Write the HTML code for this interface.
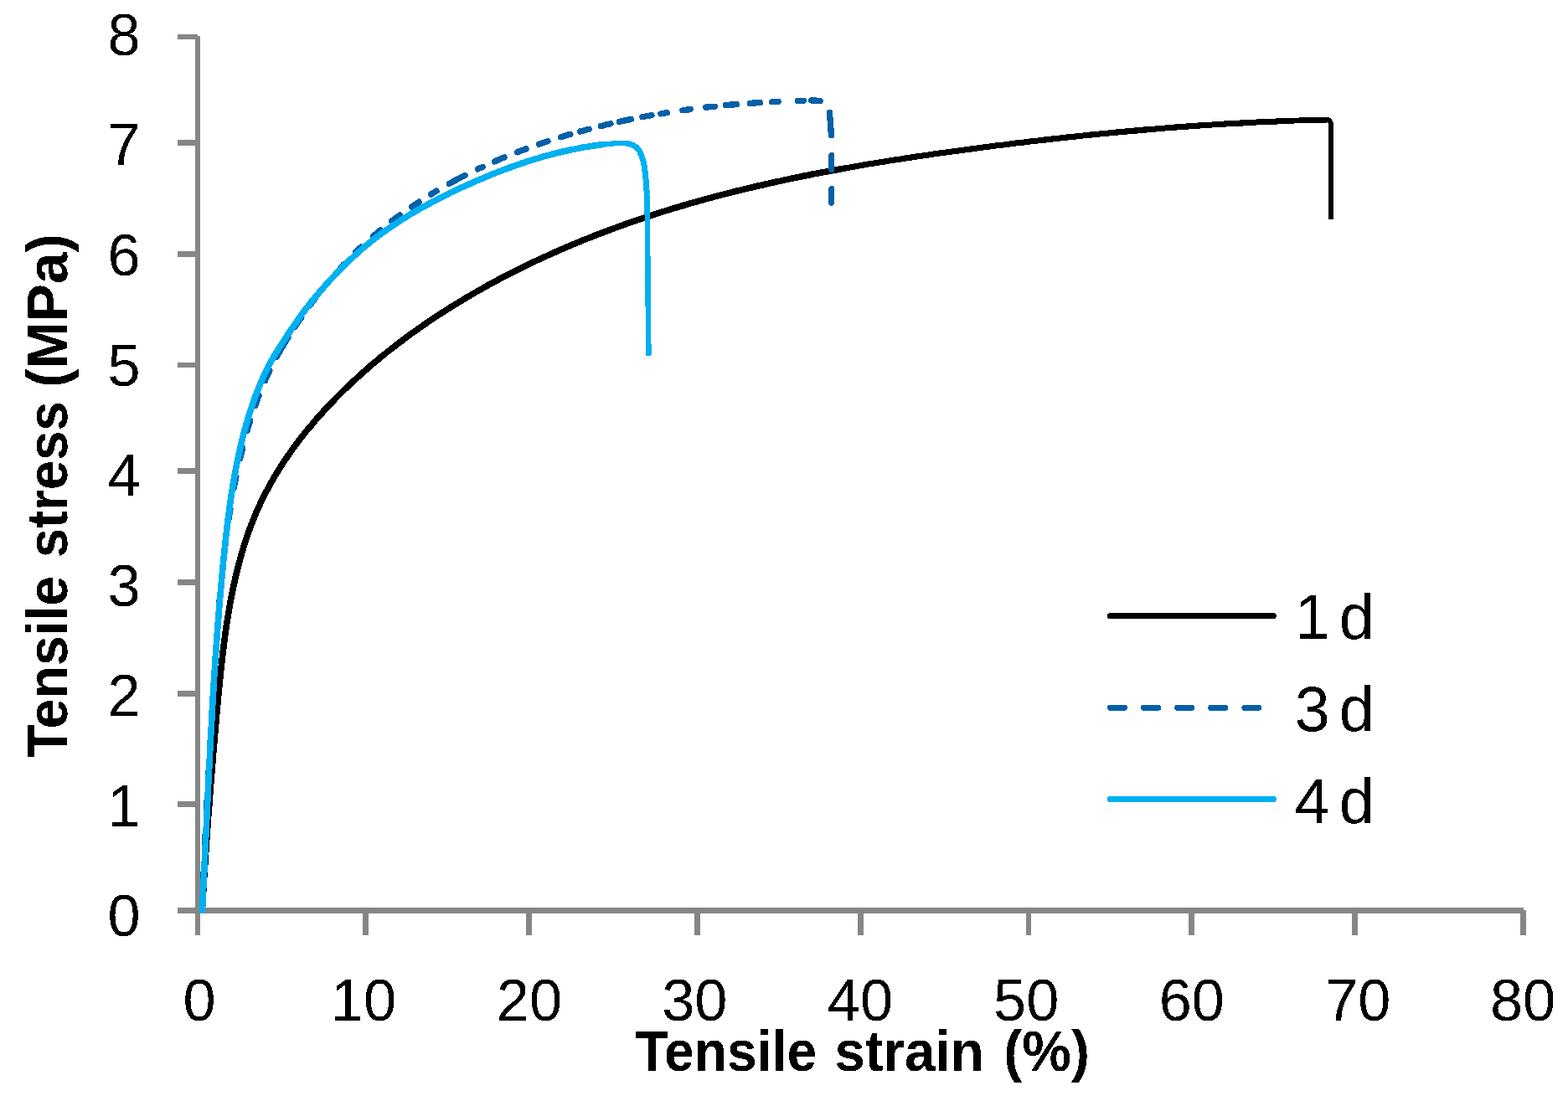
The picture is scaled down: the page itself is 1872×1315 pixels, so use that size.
<!DOCTYPE html>
<html lang="en">
<head>
<meta charset="utf-8">
<title>Tensile stress vs tensile strain</title>
<style>
html,body{margin:0;padding:0;background:#fff;}
body{width:1872px;height:1315px;overflow:hidden;}
svg{display:block;}
</style>
</head>
<body>
<svg width="1872" height="1315" viewBox="0 0 1872 1315">
<rect width="1872" height="1315" fill="#ffffff"/>
<defs><filter id="crisp" filterUnits="userSpaceOnUse" x="0" y="0" width="1872" height="1315" color-interpolation-filters="sRGB"><feComponentTransfer><feFuncA type="discrete" tableValues="0 1"/></feComponentTransfer></filter></defs>
<g shape-rendering="crispEdges"><rect x="233" y="43" width="6" height="1074" fill="#868686"/><rect x="212" y="1084" width="1607" height="7" fill="#868686"/><rect x="212" y="41" width="24" height="6" fill="#868686"/><rect x="212" y="167" width="24" height="7" fill="#868686"/><rect x="212" y="300" width="24" height="7" fill="#868686"/><rect x="212" y="433" width="24" height="6" fill="#868686"/><rect x="212" y="559" width="24" height="7" fill="#868686"/><rect x="212" y="692" width="24" height="7" fill="#868686"/><rect x="212" y="825" width="24" height="7" fill="#868686"/><rect x="212" y="957" width="24" height="7" fill="#868686"/><rect x="433" y="1087" width="7" height="30" fill="#868686"/><rect x="628" y="1087" width="7" height="30" fill="#868686"/><rect x="829" y="1087" width="7" height="30" fill="#868686"/><rect x="1024" y="1087" width="7" height="30" fill="#868686"/><rect x="1225" y="1087" width="6" height="30" fill="#868686"/><rect x="1419" y="1087" width="7" height="30" fill="#868686"/><rect x="1614" y="1087" width="7" height="30" fill="#868686"/><rect x="1815" y="1087" width="7" height="30" fill="#868686"/></g>
<g fill="none" stroke-linejoin="round"><path filter="url(#crisp)" d="M241.4,1087.5 L241.7,1081.9 L242.1,1076.3 L242.4,1070.6 L242.7,1065.0 L243.1,1059.4 L243.4,1053.7 L243.7,1048.1 L244.1,1042.5 L244.5,1036.9 L244.8,1031.3 L245.2,1025.7 L245.6,1020.1 L245.9,1014.5 L246.3,1008.9 L246.7,1003.3 L247.1,997.7 L247.5,992.1 L247.9,986.5 L248.3,980.9 L248.7,975.3 L249.1,969.7 L249.6,964.1 L250.0,958.5 L250.4,952.9 L250.8,947.3 L251.3,941.8 L251.7,936.2 L252.2,930.6 L252.6,925.0 L253.1,919.4 L253.5,913.8 L254.0,908.2 L254.4,902.6 L254.9,897.0 L255.4,891.5 L255.9,885.9 L256.3,880.3 L256.8,874.7 L257.3,869.1 L257.8,863.5 L258.3,857.9 L258.8,852.2 L259.3,846.6 L259.8,841.0 L260.3,835.4 L260.8,829.8 L261.4,824.2 L261.9,818.6 L262.5,812.9 L263.0,807.3 L263.6,801.7 L264.2,796.1 L264.8,790.5 L265.5,784.8 L266.1,779.2 L266.8,773.6 L267.5,768.0 L268.3,762.4 L269.0,756.8 L269.8,751.2 L270.6,745.6 L271.5,740.0 L272.4,734.5 L273.3,728.9 L274.3,723.3 L275.3,717.7 L276.4,712.2 L277.5,706.7 L278.6,701.1 L279.8,695.6 L281.0,690.1 L282.3,684.6 L283.7,679.2 L285.1,673.7 L286.5,668.3 L288.0,662.9 L289.6,657.5 L291.2,652.1 L292.9,646.8 L294.7,641.5 L296.5,636.2 L298.4,630.9 L300.4,625.7 L302.4,620.5 L304.5,615.4 L306.7,610.3 L309.0,605.2 L311.4,600.1 L313.8,595.1 L316.3,590.2 L318.9,585.2 L321.5,580.3 L324.2,575.5 L327.0,570.6 L329.8,565.8 L332.8,561.1 L335.7,556.4 L338.8,551.7 L341.9,547.0 L345.1,542.4 L348.3,537.9 L351.6,533.3 L354.9,528.8 L358.3,524.4 L361.8,519.9 L365.3,515.5 L368.8,511.2 L372.5,506.9 L376.1,502.6 L379.8,498.3 L383.6,494.1 L387.4,489.9 L391.2,485.8 L395.1,481.7 L399.0,477.6 L402.9,473.6 L406.9,469.6 L411.0,465.6 L415.0,461.7 L419.1,457.8 L423.3,454.0 L427.4,450.2 L431.6,446.4 L435.9,442.6 L440.1,438.9 L444.4,435.2 L448.7,431.6 L453.0,428.0 L457.4,424.4 L461.8,420.9 L466.2,417.4 L470.6,413.9 L475.1,410.5 L479.6,407.1 L484.1,403.7 L488.6,400.4 L493.2,397.0 L497.8,393.8 L502.4,390.5 L507.0,387.3 L511.7,384.2 L516.3,381.0 L521.0,377.9 L525.7,374.8 L530.5,371.8 L535.2,368.7 L540.0,365.8 L544.8,362.8 L549.6,359.9 L554.4,357.0 L559.2,354.1 L564.1,351.3 L568.9,348.5 L573.8,345.7 L578.7,342.9 L583.6,340.2 L588.5,337.5 L593.5,334.9 L598.4,332.2 L603.4,329.6 L608.4,327.0 L613.4,324.5 L618.4,322.0 L623.4,319.5 L628.5,317.0 L633.5,314.6 L638.6,312.1 L643.7,309.8 L648.8,307.4 L653.9,305.1 L659.0,302.8 L664.1,300.5 L669.3,298.2 L674.4,296.0 L679.6,293.8 L684.8,291.6 L690.0,289.5 L695.2,287.3 L700.4,285.2 L705.6,283.2 L710.8,281.1 L716.1,279.1 L721.3,277.1 L726.6,275.1 L731.8,273.2 L737.1,271.2 L742.4,269.3 L747.7,267.4 L753.0,265.6 L758.3,263.7 L763.6,261.9 L769.0,260.1 L774.3,258.4 L779.6,256.6 L785.0,254.9 L790.3,253.2 L795.7,251.5 L801.1,249.9 L806.5,248.2 L811.9,246.6 L817.2,245.0 L822.6,243.4 L828.1,241.9 L833.5,240.4 L838.9,238.8 L844.3,237.4 L849.7,235.9 L855.2,234.4 L860.6,233.0 L866.0,231.6 L871.5,230.2 L876.9,228.8 L882.4,227.5 L887.8,226.1 L893.3,224.8 L898.8,223.5 L904.2,222.2 L909.7,221.0 L915.2,219.7 L920.7,218.5 L926.2,217.3 L931.7,216.1 L937.2,214.9 L942.7,213.7 L948.2,212.6 L953.7,211.5 L959.2,210.3 L964.7,209.2 L970.2,208.1 L975.7,207.1 L981.2,206.0 L986.8,205.0 L992.3,203.9 L997.8,202.9 L1003.4,201.9 L1008.9,200.9" stroke="#000000" stroke-width="7.6" stroke-linecap="round" />
<path filter="url(#crisp)" d="M1003.4,201.9 L1008.9,200.9 L1014.4,199.9 L1020.0,198.9 L1025.5,198.0 L1031.1,197.0 L1036.6,196.1 L1042.1,195.2 L1047.7,194.3 L1053.3,193.4 L1058.8,192.5 L1064.4,191.6 L1069.9,190.7 L1075.5,189.9 L1081.0,189.0 L1086.6,188.2 L1092.2,187.3 L1097.7,186.5 L1103.3,185.7 L1108.9,184.9 L1114.4,184.1 L1120.0,183.3 L1125.6,182.5 L1131.2,181.7 L1136.7,181.0 L1142.3,180.2 L1147.9,179.4 L1153.5,178.7 L1159.0,177.9 L1164.6,177.2 L1170.2,176.5 L1175.8,175.7 L1181.3,175.0 L1186.9,174.3 L1192.5,173.6 L1198.1,172.9 L1203.7,172.2 L1209.2,171.5 L1214.8,170.8 L1220.4,170.2 L1226.0,169.5 L1231.6,168.8 L1237.1,168.2 L1242.7,167.5 L1248.3,166.9 L1253.9,166.2 L1259.5,165.6 L1265.1,165.0 L1270.7,164.4 L1276.2,163.8 L1281.8,163.2 L1287.4,162.6 L1293.0,162.0 L1298.6,161.4 L1304.2,160.9 L1309.8,160.3 L1315.4,159.7 L1321.0,159.2 L1326.5,158.7 L1332.1,158.1 L1337.7,157.6 L1343.3,157.1 L1348.9,156.6 L1354.5,156.1 L1360.1,155.6 L1365.7,155.1 L1371.3,154.6 L1376.9,154.2 L1382.5,153.7 L1388.1,153.2 L1393.7,152.8 L1399.3,152.4 L1404.9,151.9 L1410.5,151.5 L1416.1,151.1 L1421.7,150.7 L1427.3,150.3 L1432.9,149.9 L1438.6,149.6 L1444.2,149.2 L1449.8,148.8 L1455.4,148.5 L1461.0,148.1 L1466.6,147.8 L1472.2,147.5 L1477.8,147.2 L1483.4,146.9 L1489.1,146.6 L1494.7,146.3 L1500.3,146.0 L1505.9,145.7 L1511.5,145.5 L1517.1,145.2 L1522.8,145.0 L1528.4,144.8 L1534.0,144.6 L1539.6,144.3" stroke="#000000" stroke-width="7.1" stroke-linecap="round" />
<path filter="url(#crisp)" d="M1539.6,144.3 L1545.2,144.1 L1550.9,143.9 L1556.5,143.8 L1562.1,143.6 L1567.7,143.4 L1573.4,143.3 L1579.0,143.1 L1584.6,143.0" stroke="#000000" stroke-width="6.8" stroke-linecap="round" />
<path filter="url(#crisp)" d="M1584.6,143.5 L1585.3,143.5 L1585.9,143.6 L1586.5,143.8 L1587.0,144.1 L1587.4,144.5 L1587.8,145.0 L1588.1,145.5 L1588.4,146.1 L1588.6,146.6 L1588.8,147.2 L1588.8,147.8 L1588.9,148.4 L1588.9,149.0 L1588.9,149.6 L1588.9,150.3 L1588.9,150.9 L1588.9,151.5 L1588.9,152.1 L1588.9,152.7 L1588.9,153.3 L1588.9,153.9 L1589.0,154.5 L1589.0,155.1 L1589.0,155.7 L1589.0,156.3 L1589.0,156.9 L1589.0,157.5 L1589.0,158.1 L1589.0,158.7 L1589.0,159.3 L1589.0,159.9 L1589.0,160.5 L1589.0,161.1 L1589.0,161.7 L1589.0,162.3 L1589.0,163.0 L1589.0,163.6 L1589.0,164.2 L1589.0,164.8 L1589.0,165.4 L1589.0,166.0 L1589.0,166.6 L1589.1,167.2 L1589.1,167.8 L1589.1,168.4 L1589.1,169.0 L1589.1,169.6 L1589.1,170.2 L1589.1,170.8 L1589.1,171.4 L1589.1,172.0 L1589.1,172.6 L1589.1,173.2 L1589.1,173.8 L1589.1,174.4 L1589.1,175.0 L1589.1,175.6 L1589.1,176.2 L1589.1,176.9 L1589.1,177.5 L1589.1,178.1 L1589.1,178.7 L1589.1,179.3 L1589.1,179.9 L1589.1,180.5 L1589.1,181.1 L1589.1,181.7 L1589.1,182.3 L1589.1,182.9 L1589.1,183.5 L1589.1,184.1 L1589.1,184.7 L1589.1,185.3 L1589.1,185.9 L1589.1,186.5 L1589.2,187.1 L1589.2,187.7 L1589.2,188.3 L1589.2,188.9 L1589.2,189.5 L1589.2,190.1 L1589.2,190.8 L1589.2,191.4 L1589.2,192.0 L1589.2,192.6 L1589.2,193.2 L1589.2,193.8 L1589.2,194.4 L1589.2,195.0 L1589.2,195.6 L1589.2,196.2 L1589.2,196.8 L1589.2,197.4 L1589.2,198.0 L1589.2,198.6 L1589.2,199.2 L1589.2,199.8 L1589.2,200.4 L1589.2,201.0 L1589.2,201.6 L1589.2,202.2 L1589.2,202.9 L1589.2,203.5 L1589.2,204.1 L1589.2,204.7 L1589.2,205.3 L1589.2,205.9 L1589.2,206.5 L1589.2,207.1 L1589.2,207.7 L1589.2,208.3 L1589.2,208.9 L1589.2,209.5 L1589.2,210.1 L1589.2,210.7 L1589.2,211.3 L1589.2,211.9 L1589.2,212.5 L1589.2,213.1 L1589.2,213.7 L1589.2,214.3 L1589.2,215.0 L1589.2,215.6 L1589.2,216.2 L1589.2,216.8 L1589.2,217.4 L1589.2,218.0 L1589.2,218.6 L1589.2,219.2 L1589.2,219.8 L1589.2,220.4 L1589.2,221.0 L1589.2,221.6 L1589.2,222.2 L1589.2,222.8 L1589.2,223.4 L1589.2,224.0 L1589.2,224.6 L1589.2,225.2 L1589.2,225.9 L1589.2,226.5 L1589.2,227.1 L1589.2,227.7 L1589.2,228.3 L1589.2,228.9 L1589.2,229.5 L1589.2,230.1 L1589.2,230.7 L1589.2,231.3 L1589.2,231.9 L1589.2,232.5 L1589.2,233.1 L1589.2,233.7 L1589.2,234.3 L1589.1,234.9 L1589.1,235.5 L1589.1,236.1 L1589.1,236.8 L1589.1,237.4 L1589.1,238.0 L1589.1,238.6 L1589.1,239.2 L1589.1,239.8 L1589.1,240.4 L1589.1,241.0 L1589.1,241.6 L1589.1,242.2 L1589.1,242.8 L1589.1,243.4 L1589.1,244.0 L1589.1,244.6 L1589.1,245.2 L1589.1,245.8 L1589.1,246.4 L1589.1,247.1 L1589.1,247.7 L1589.1,248.3 L1589.1,248.9 L1589.1,249.5 L1589.1,250.1 L1589.1,250.7 L1589.1,251.3 L1589.1,251.9 L1589.1,252.5 L1589.1,253.1 L1589.1,253.7 L1589.1,254.3 L1589.0,254.9 L1589.0,255.5 L1589.0,256.1 L1589.0,256.7 L1589.0,257.4 L1589.0,258.0 L1589.0,258.6 L1589.0,259.2 L1589.0,259.8 L1589.0,260.4 L1589.0,261.0 L1589.0,261.6" stroke="#000000" stroke-width="6.2" stroke-linecap="butt"/>
<path filter="url(#crisp)" d="M241.4,1087.5 L241.5,1082.8 L241.7,1078.0 L241.9,1073.3 L242.0,1068.5 L242.2,1063.7 L242.4,1059.0 L242.6,1054.2 L242.8,1049.5 L243.0,1044.7 L243.2,1040.0 L243.4,1035.2 L243.6,1030.5 L243.8,1025.7 L244.0,1021.0 L244.2,1016.2 L244.4,1011.5 L244.6,1006.7 L244.9,1002.0 L245.1,997.2 L245.3,992.5 L245.5,987.7 L245.8,983.0 L246.0,978.3 L246.3,973.5 L246.5,968.8 L246.7,964.0 L247.0,959.3 L247.2,954.5 L247.5,949.8 L247.7,945.1 L248.0,940.3 L248.3,935.6 L248.5,930.8 L248.8,926.1 L249.1,921.3 L249.3,916.6 L249.6,911.9 L249.9,907.1 L250.1,902.4 L250.4,897.6 L250.7,892.9 L251.0,888.1 L251.2,883.4 L251.5,878.7 L251.8,873.9 L252.1,869.2 L252.4,864.4 L252.6,859.7 L252.9,855.0 L253.2,850.2 L253.5,845.5 L253.8,840.7 L254.1,836.0 L254.4,831.2 L254.7,826.5 L255.0,821.7 L255.2,817.0 L255.5,812.3 L255.8,807.5 L256.1,802.8 L256.4,798.0 L256.7,793.3 L257.0,788.5 L257.3,783.8 L257.6,779.0 L257.9,774.3 L258.2,769.5 L258.6,764.8 L258.9,760.0 L259.2,755.3 L259.6,750.5 L259.9,745.8 L260.3,741.1 L260.6,736.3 L261.0,731.6 L261.4,726.8 L261.7,722.1 L262.1,717.4 L262.5,712.6 L262.9,707.9 L263.4,703.1 L263.8,698.4 L264.3,693.7 L264.7,688.9 L265.2,684.2 L265.7,679.5 L266.2,674.8 L266.7,670.0 L267.2,665.3 L267.8,660.6 L268.3,655.9 L268.9,651.2 L269.5,646.4 L270.1,641.7 L270.7,637.0 L271.4,632.3 L272.0,627.6 L272.7,622.9 L273.4,618.2 L274.1,613.5 L274.8,608.8 L275.6,604.1 L276.4,599.4 L277.2,594.7 L278.0,590.1 L278.9,585.4 L279.7,580.7 L280.6,576.0 L281.5,571.4 L282.5,566.7 L283.4,562.0 L284.4,557.4 L285.5,552.7 L286.5,548.1 L287.6,543.4 L288.7,538.8 L289.8,534.2 L291.0,529.6 L292.2,525.0 L293.5,520.4 L294.7,515.8 L296.0,511.3 L297.4,506.7 L298.8,502.2 L300.2,497.7 L301.7,493.2 L303.2,488.7 L304.8,484.2 L306.4,479.7 L308.0,475.3 L309.7,470.9 L311.4,466.5 L313.2,462.1 L315.1,457.8 L317.0,453.4 L318.9,449.1 L320.9,444.8 L322.9,440.6 L325.0,436.3 L327.2,432.1 L329.4,427.9 L331.6,423.8 L334.0,419.6 L336.3,415.5 L338.7,411.5 L341.2,407.4 L343.7,403.4 L346.3,399.3 L348.9,395.3 L351.5,391.4 L354.1,387.4 L356.8,383.5 L359.5,379.5 L362.2,375.6 L364.9,371.7 L367.7,367.8 L370.5,364.0 L373.4,360.1 L376.2,356.3 L379.1,352.5 L382.1,348.8 L385.1,345.0 L388.1,341.3 L391.1,337.6 L394.2,333.9 L397.3,330.3 L400.4,326.7 L403.6,323.2 L406.8,319.6 L410.0,316.1 L413.3,312.7 L416.6,309.3 L420.0,305.9 L423.3,302.5 L426.7,299.2 L430.2,296.0 L433.6,292.7 L437.1,289.5 L440.7,286.4 L444.2,283.3 L447.8,280.2 L451.4,277.1 L455.1,274.1 L458.7,271.1 L462.4,268.2 L466.2,265.3 L469.9,262.4 L473.7,259.6 L477.5,256.8 L481.3,254.0 L485.2,251.3 L489.1,248.6 L493.0,245.9 L496.9,243.3 L500.9,240.7 L504.9,238.1 L508.9,235.6 L512.9,233.1 L516.9,230.6 L521.0,228.2 L525.1,225.8 L529.2,223.4 L533.3,221.1 L537.5,218.8 L541.6,216.5 L545.8,214.3 L550.0,212.1 L554.3,209.9 L558.5,207.8 L562.8,205.7 L567.0,203.6 L571.3,201.5 L575.6,199.5 L580.0,197.5 L584.3,195.6 L588.7,193.7 L593.0,191.8 L597.4,189.9 L601.8,188.0 L606.2,186.2 L610.7,184.5 L615.1,182.7 L619.5,181.0 L624.0,179.3 L628.5,177.6 L633.0,176.0 L637.4,174.4 L642.0,172.8 L646.5,171.2 L651.0,169.7 L655.5,168.2 L660.1,166.7 L664.6,165.3 L669.2,163.9 L673.7,162.5 L678.3,161.1 L682.9,159.8 L687.5,158.4 L692.0,157.2 L696.6,155.9 L701.2,154.7 L705.8,153.4 L710.4,152.3 L715.0,151.1 L719.7,150.0 L724.3,148.8 L728.9,147.8 L733.5,146.7 L738.2,145.6 L742.8,144.6 L747.4,143.6 L752.1,142.7 L756.7,141.7 L761.4,140.8 L766.0,139.9 L770.7,139.0 L775.4,138.2 L780.0,137.3 L784.7,136.5 L789.4,135.7 L794.0,135.0 L798.7,134.2 L803.4,133.5 L808.1,132.8 L812.8,132.1 L817.5,131.4 L822.2,130.8 L826.9,130.2 L831.6,129.6 L836.3,129.0 L841.0,128.4 L845.7,127.9 L850.4,127.4 L855.1,126.9 L859.9,126.4 L864.6,125.9 L869.3,125.5 L874.0,125.0 L878.8,124.6 L883.5,124.2 L888.2,123.8 L893.0,123.5 L897.7,123.1 L902.5,122.8 L907.2,122.5 L912.0,122.2 L916.7,122.0 L921.5,121.7 L926.2,121.5 L931.0,121.2 L935.7,121.0 L940.5,120.8 L945.3,120.7 L950.0,120.5 L954.8,120.4 L959.6,120.2 L964.3,120.1 L969.1,120.0 L973.9,119.9 L974.5,120.4 L975.2,120.3 L975.9,120.3 L976.5,120.4 L977.2,120.4 L977.9,120.5 L978.5,120.6 L979.2,120.7 L979.8,120.8 L980.5,121.0 L981.1,121.2 L981.8,121.4 L982.4,121.6 L983.0,121.9 L983.6,122.2 L984.2,122.5 L984.8,122.8 L985.4,123.2 L986.0,123.6 L986.5,124.0 L986.9,124.4 L987.4,124.9 L987.8,125.5 L988.2,126.0 L988.5,126.6 L988.8,127.2 L989.1,127.8 L989.3,128.5 L989.5,129.1 L989.7,129.7 L989.9,130.4 L990.0,131.0 L990.1,131.7 L990.2,132.4 L990.3,133.0 L990.3,133.7 L990.4,134.4 L990.4,135.1 L990.5,135.7 L990.5,136.4 L990.6,137.1 L990.6,137.7 L990.7,138.4 L990.8,139.1 L990.8,139.7 L990.9,140.4 L990.9,141.1 L991.0,141.7 L991.0,142.4 L991.1,143.1 L991.1,143.7 L991.2,144.4 L991.2,145.1 L991.3,145.7 L991.4,146.4 L991.4,147.1 L991.5,147.7 L991.5,148.4 L991.6,149.1 L991.6,149.7 L991.7,150.4 L991.7,151.1 L991.8,151.7 L991.8,152.4 L991.9,153.0 L991.9,153.7 L991.9,154.4 L992.0,155.0 L992.0,155.7 L992.1,156.4 L992.1,157.0 L992.1,157.7 L992.2,158.4 L992.2,159.0 L992.2,159.7 L992.3,160.4 L992.3,161.0 L992.3,161.7 L992.4,162.4 L992.4,163.0 L992.4,163.7 L992.4,164.4 L992.4,165.0 L992.5,165.7 L992.5,166.4 L992.5,167.0 L992.5,167.7 L992.5,168.4 L992.5,169.0 L992.5,169.7 L992.6,170.4 L992.6,171.0 L992.6,171.7 L992.6,172.4 L992.6,173.0 L992.6,173.7 L992.6,174.4 L992.6,175.1 L992.6,175.7 L992.6,176.4 L992.6,177.1 L992.6,177.7 L992.6,178.4 L992.6,179.1 L992.6,179.7 L992.6,180.4 L992.6,181.1 L992.6,181.7 L992.6,182.4 L992.6,183.1 L992.6,183.7 L992.6,184.4 L992.6,185.1 L992.6,185.7 L992.6,186.4 L992.6,187.1 L992.6,187.7 L992.6,188.4 L992.6,189.1 L992.6,189.7 L992.6,190.4 L992.6,191.1 L992.6,191.8 L992.6,192.4 L992.6,193.1 L992.6,193.8 L992.6,194.4 L992.6,195.1 L992.6,195.8 L992.6,196.4 L992.6,197.1 L992.6,197.8 L992.6,198.4 L992.6,199.1 L992.6,199.8 L992.6,200.4 L992.6,201.1 L992.6,201.8 L992.6,202.4 L992.6,203.1 L992.6,203.8 L992.6,204.4 L992.6,205.1 L992.6,205.8 L992.6,206.4 L992.6,207.1 L992.6,207.8 L992.6,208.4 L992.6,209.1 L992.6,209.8 L992.6,210.5 L992.6,211.1 L992.6,211.8 L992.6,212.5 L992.6,213.1 L992.6,213.8 L992.6,214.5 L992.6,215.1 L992.6,215.8 L992.6,216.5 L992.6,217.1 L992.6,217.8 L992.6,218.5 L992.6,219.1 L992.6,219.8 L992.6,220.5 L992.6,221.1 L992.6,221.8 L992.6,222.5 L992.6,223.1 L992.6,223.8 L992.6,224.5 L992.6,225.1 L992.6,225.8 L992.6,226.5 L992.6,227.1 L992.6,227.8 L992.6,228.5 L992.6,229.1 L992.6,229.8 L992.6,230.5 L992.6,231.2 L992.6,231.8 L992.6,232.5 L992.6,233.2 L992.6,233.8 L992.6,234.5 L992.6,235.2 L992.6,235.8 L992.6,236.5 L992.6,237.2 L992.6,237.8 L992.6,238.5 L992.6,239.2 L992.6,239.8 L992.6,240.5 L992.6,241.2 L992.6,241.8 L992.6,242.5" stroke="#0560a8" stroke-width="7.3" stroke-linecap="round" stroke-dasharray="16.7 23.3 16.7 23.3 16.7 23.3 16.7 23.3 16.7 23.3 16.7 23.3 16.7 23.3 16.7 23.3 16.7 23.4 16.8 59.0 7.1 26.0 11.9 26.1 12.9 22.6 13.0 21.0 12.8 18.5 13.3 19.0 13.1 18.0 27.4 15.7 13.2 17.3 11.8 16.4 5.0 24.8 5.6 20.3 9.3 19.2 11.5 16.8 12.4 17.2 10.6 16.8 7.7 17.7 21.2 17.0 6.3 15.7 12.7 16.5 11.4 16.2 11.3 16.0 12.1 11.8 11.3 14.8 11.9 10.6 14.3 13.9 11.2 11.0 7.5 18.8 9.5 18.6 10.8 13.2 12.9 16.0 11.9 14.4 7.4 23.3 6.9 9.2 11.1 19.5 27.4 23.8 16.6 23.4 16.4 1000.0"/>
<path filter="url(#crisp)" d="M241.3,1087.5 L241.5,1084.0 L241.7,1080.5 L241.9,1077.0 L242.1,1073.6 L242.3,1070.1 L242.5,1066.6 L242.6,1063.1 L242.8,1059.6 L243.0,1056.1 L243.2,1052.6 L243.3,1049.1 L243.5,1045.6 L243.7,1042.1 L243.9,1038.6 L244.0,1035.2 L244.2,1031.7 L244.4,1028.2 L244.5,1024.7 L244.7,1021.2 L244.9,1017.7 L245.1,1014.2 L245.2,1010.7 L245.4,1007.2 L245.6,1003.7 L245.7,1000.3 L245.9,996.8 L246.1,993.3 L246.2,989.8 L246.4,986.3 L246.6,982.8 L246.7,979.3 L246.9,975.8 L247.1,972.3 L247.2,968.9 L247.4,965.4 L247.6,961.9 L247.7,958.4 L247.9,954.9 L248.1,951.4 L248.2,947.9 L248.4,944.4 L248.6,940.9 L248.7,937.5 L248.9,934.0 L249.1,930.5 L249.2,927.0 L249.4,923.5 L249.6,920.0 L249.8,916.5 L249.9,913.0 L250.1,909.6 L250.3,906.1 L250.5,902.6 L250.6,899.1 L250.8,895.6 L251.0,892.1 L251.2,888.6 L251.3,885.1 L251.5,881.7 L251.7,878.2 L251.9,874.7 L252.1,871.2 L252.3,867.7 L252.5,864.2 L252.7,860.7 L252.9,857.2 L253.0,853.8 L253.2,850.3 L253.4,846.8 L253.6,843.3 L253.8,839.8 L254.0,836.3 L254.2,832.8 L254.5,829.4 L254.7,825.9 L254.9,822.4 L255.1,818.9 L255.3,815.4 L255.5,811.9 L255.7,808.5 L256.0,805.0 L256.2,801.5 L256.4,798.0 L256.6,794.5 L256.9,791.0 L257.1,787.5 L257.3,784.1 L257.6,780.6 L257.8,777.1 L258.1,773.6 L258.3,770.1 L258.6,766.6 L258.8,763.2 L259.1,759.7 L259.3,756.2 L259.6,752.7 L259.8,749.2 L260.1,745.7 L260.4,742.3 L260.7,738.8 L260.9,735.3 L261.2,731.8 L261.5,728.3 L261.8,724.9 L262.1,721.4 L262.4,717.9 L262.7,714.4 L263.0,710.9 L263.3,707.4 L263.6,704.0 L263.9,700.5 L264.2,697.0 L264.5,693.5 L264.8,690.0 L265.1,686.6 L265.5,683.1 L265.8,679.6 L266.1,676.1 L266.5,672.6 L266.8,669.2 L267.2,665.7 L267.5,662.2 L267.9,658.7 L268.2,655.2 L268.6,651.8 L269.0,648.3 L269.4,644.8 L269.7,641.3 L270.1,637.8 L270.5,634.4 L270.9,630.9 L271.3,627.4 L271.8,624.0 L272.2,620.5 L272.6,617.0 L273.1,613.5 L273.5,610.1 L274.0,606.6 L274.5,603.2 L275.0,599.7 L275.5,596.2 L276.0,592.8 L276.5,589.3 L277.0,585.9 L277.6,582.4 L278.1,579.0 L278.7,575.5 L279.3,572.1 L279.9,568.7 L280.5,565.2 L281.2,561.8 L281.8,558.4 L282.5,555.0 L283.2,551.5 L283.9,548.1 L284.6,544.7 L285.3,541.3 L286.1,537.9 L286.9,534.5 L287.7,531.1 L288.5,527.7 L289.3,524.4 L290.2,521.0 L291.0,517.6 L291.9,514.2 L292.9,510.9 L293.8,507.5 L294.8,504.2 L295.7,500.8 L296.8,497.5 L297.8,494.2 L298.9,490.8 L299.9,487.5 L301.0,484.2 L302.2,480.9 L303.3,477.6 L304.5,474.3 L305.7,471.0 L307.0,467.7 L308.3,464.5 L309.6,461.2 L310.9,458.0 L312.3,454.7 L313.7,451.5 L315.1,448.3 L316.6,445.2 L318.2,442.0 L319.8,438.9 L321.4,435.8 L323.0,432.8 L324.7,429.7 L326.5,426.7 L328.2,423.7 L330.0,420.7 L331.9,417.8 L333.7,414.8 L335.6,411.9 L337.5,409.0 L339.4,406.0 L341.3,403.1 L343.3,400.2 L345.2,397.3 L347.1,394.4 L349.1,391.5 L351.1,388.6 L353.1,385.8 L355.0,382.9 L357.1,380.1 L359.1,377.2 L361.1,374.4 L363.2,371.6 L365.3,368.8 L367.4,366.0 L369.6,363.3 L371.7,360.5 L373.9,357.8 L376.1,355.1 L378.4,352.5 L380.6,349.8 L382.9,347.2 L385.2,344.5 L387.5,341.9 L389.8,339.3 L392.2,336.7 L394.5,334.1 L396.9,331.6 L399.3,329.0 L401.7,326.5 L404.1,324.0 L406.6,321.4 L409.1,319.0 L411.5,316.5 L414.1,314.0 L416.6,311.6 L419.1,309.2 L421.7,306.8 L424.2,304.4 L426.8,302.1 L429.5,299.8 L432.1,297.5 L434.8,295.2 L437.4,293.0 L440.1,290.8 L442.9,288.6 L445.6,286.4 L448.3,284.3 L451.1,282.2 L453.9,280.1 L456.7,278.0 L459.5,276.0 L462.4,274.0 L465.2,272.0 L468.1,270.0 L471.0,268.1 L473.9,266.2 L476.8,264.3 L479.7,262.4 L482.7,260.5 L485.6,258.7 L488.6,256.8 L491.6,255.0 L494.6,253.3 L497.6,251.5 L500.6,249.8 L503.7,248.0 L506.7,246.3 L509.8,244.6 L512.9,243.0 L515.9,241.3 L519.0,239.7 L522.1,238.1 L525.2,236.5 L528.4,234.9 L531.5,233.3 L534.6,231.8 L537.8,230.2 L540.9,228.7 L544.1,227.2 L547.3,225.7 L550.4,224.2 L553.6,222.8 L556.8,221.3 L560.0,219.9 L563.2,218.5 L566.4,217.1 L569.6,215.7 L572.9,214.3 L576.1,212.9 L579.3,211.5 L582.6,210.2 L585.8,208.9 L589.0,207.6 L592.3,206.3 L595.5,205.0 L598.8,203.7 L602.1,202.5 L605.4,201.3 L608.6,200.1 L611.9,198.9 L615.2,197.7 L618.5,196.6 L621.8,195.4 L625.1,194.3 L628.4,193.2 L631.8,192.2 L635.1,191.1 L638.4,190.1 L641.8,189.1 L645.1,188.1 L648.5,187.1 L651.8,186.2 L655.2,185.3 L658.5,184.4 L661.9,183.5 L665.3,182.6 L668.7,181.8 L672.1,181.0 L675.5,180.2 L678.9,179.5 L682.3,178.8 L685.7,178.1 L689.1,177.4 L692.5,176.8 L696.0,176.1 L699.4,175.5 L702.8,175.0 L706.3,174.5 L709.7,173.9 L713.2,173.5 L716.7,173.0 L720.1,172.6" stroke="#00b0f0" stroke-width="7.6" stroke-linecap="round" />
<path filter="url(#crisp)" d="M723.6,172.2 L727.1,171.9 L730.6,171.6 L734.1,171.3 L737.6,171.1 L741.0,170.9 L744.5,170.8 L748.0,170.8" stroke="#00b0f0" stroke-width="6.1" stroke-linecap="round" />
<path filter="url(#crisp)" d="M748.0,171.1 L749.3,171.4 L750.6,171.8 L751.8,172.2 L753.1,172.6 L754.3,173.1 L755.6,173.6 L756.8,174.1 L758.0,174.7 L759.1,175.4 L760.2,176.2 L761.1,177.2 L762.0,178.2 L762.8,179.2 L763.5,180.4 L764.1,181.6 L764.6,182.8 L765.1,184.0 L765.5,185.3 L766.0,186.5 L766.4,187.8 L766.8,189.0 L767.3,190.3 L767.6,191.6 L768.0,192.8 L768.3,194.1 L768.6,195.4 L768.9,196.7 L769.1,198.0 L769.3,199.3 L769.5,200.7 L769.7,202.0 L769.9,203.3 L770.0,204.6 L770.2,205.9 L770.3,207.2 L770.5,208.6 L770.6,209.9 L770.7,211.2 L770.9,212.5 L771.0,213.9 L771.1,215.2 L771.2,216.5 L771.3,217.8 L771.4,219.1 L771.5,220.5 L771.6,221.8 L771.7,223.1 L771.8,224.4 L771.9,225.8 L772.0,227.1 L772.0,228.4 L772.1,229.7 L772.2,231.1" stroke="#00b0f0" stroke-width="7.0" stroke-linecap="round" />
<path filter="url(#crisp)" d="M772.0,227.1 L772.0,228.4 L772.1,229.7 L772.2,231.1 L772.2,232.4 L772.3,233.7 L772.3,235.0 L772.4,236.4 L772.4,237.7 L772.4,239.0 L772.4,240.3 L772.5,241.7 L772.5,243.0 L772.5,244.3 L772.6,245.7 L772.6,247.0 L772.6,248.3 L772.6,249.6 L772.7,251.0 L772.7,252.3 L772.7,253.6 L772.7,254.9 L772.7,256.3 L772.8,257.6 L772.8,258.9 L772.8,260.3 L772.8,261.6 L772.8,262.9 L772.9,264.2 L772.9,265.6 L772.9,266.9 L772.9,268.2 L772.9,269.5 L773.0,270.9 L773.0,272.2 L773.0,273.5 L773.0,274.9 L773.0,276.2 L773.0,277.5 L773.0,278.8 L773.1,280.2 L773.1,281.5 L773.1,282.8 L773.1,284.1 L773.1,285.5 L773.1,286.8 L773.1,288.1 L773.1,289.5 L773.2,290.8 L773.2,292.1 L773.2,293.4 L773.2,294.8 L773.2,296.1 L773.2,297.4 L773.2,298.7 L773.2,300.1 L773.2,301.4 L773.2,302.7 L773.2,304.0 L773.2,305.4 L773.3,306.7 L773.3,308.0 L773.3,309.4 L773.3,310.7 L773.3,312.0 L773.3,313.3 L773.3,314.7 L773.3,316.0 L773.3,317.3 L773.3,318.6 L773.3,320.0 L773.4,321.3 L773.4,322.6 L773.4,324.0 L773.4,325.3 L773.4,326.6 L773.4,327.9 L773.4,329.3 L773.4,330.6 L773.4,331.9 L773.4,333.2 L773.5,334.6 L773.5,335.9 L773.5,337.2 L773.5,338.5 L773.5,339.9 L773.5,341.2 L773.5,342.5 L773.5,343.9 L773.5,345.2 L773.6,346.5 L773.6,347.8 L773.6,349.2 L773.6,350.5 L773.6,351.8 L773.6,353.1 L773.6,354.5 L773.6,355.8 L773.7,357.1 L773.7,358.5 L773.7,359.8 L773.7,361.1 L773.7,362.4 L773.7,363.8 L773.7,365.1 L773.8,366.4 L773.8,367.7 L773.8,369.1 L773.8,370.4 L773.8,371.7 L773.8,373.0 L773.8,374.4 L773.9,375.7 L773.9,377.0 L773.9,378.4 L773.9,379.7 L773.9,381.0 L773.9,382.3 L774.0,383.7 L774.0,385.0 L774.0,386.3 L774.0,387.6 L774.0,389.0 L774.0,390.3 L774.0,391.6 L774.1,393.0 L774.1,394.3 L774.1,395.6 L774.1,396.9 L774.1,398.3 L774.1,399.6 L774.2,400.9 L774.2,402.2 L774.2,403.6 L774.2,404.9 L774.2,406.2 L774.2,407.5 L774.2,408.9 L774.2,410.2 L774.3,411.5 L774.3,412.9 L774.3,414.2 L774.3,415.5 L774.3,416.8 L774.3,418.2 L774.3,419.5 L774.4,420.8 L774.4,422.1 L774.4,423.5 L774.4,424.8" stroke="#00b0f0" stroke-width="6.5" stroke-linecap="butt"/></g>
<g fill="none" stroke-linecap="round"><path filter="url(#crisp)" d="M1325.6,735.6 H1520.2" stroke="#000000" stroke-width="7.4"/>
<path filter="url(#crisp)" d="M1325.5,845.3 H1520" stroke="#0560a8" stroke-width="7.1" stroke-dasharray="17 23.1"/>
<path filter="url(#crisp)" d="M1325.6,954.5 H1520.2" stroke="#00b0f0" stroke-width="7.4"/></g>
<g font-family="'Liberation Sans', Arial, sans-serif" fill="#000" filter="url(#crisp)"><text x="128.64" y="66.0" font-size="69.5" textLength="39.12" lengthAdjust="spacingAndGlyphs">8</text>
<text x="128.64" y="197.2" font-size="69.5" textLength="39.12" lengthAdjust="spacingAndGlyphs">7</text>
<text x="128.64" y="329.0" font-size="69.5" textLength="39.12" lengthAdjust="spacingAndGlyphs">6</text>
<text x="128.64" y="460.5" font-size="69.5" textLength="39.12" lengthAdjust="spacingAndGlyphs">5</text>
<text x="128.64" y="592.0" font-size="69.5" textLength="39.12" lengthAdjust="spacingAndGlyphs">4</text>
<text x="128.64" y="723.5" font-size="69.5" textLength="39.12" lengthAdjust="spacingAndGlyphs">3</text>
<text x="128.64" y="855.0" font-size="69.5" textLength="39.12" lengthAdjust="spacingAndGlyphs">2</text>
<text x="128.64" y="986.5" font-size="69.5" textLength="39.12" lengthAdjust="spacingAndGlyphs">1</text>
<text x="128.64" y="1118.0" font-size="69.5" textLength="39.12" lengthAdjust="spacingAndGlyphs">0</text>
<text x="218.44" y="1218.7" font-size="69.5" textLength="39.12" lengthAdjust="spacingAndGlyphs">0</text>
<text x="394.88" y="1218.7" font-size="69.5" textLength="78.23" lengthAdjust="spacingAndGlyphs">10</text>
<text x="592.88" y="1218.7" font-size="69.5" textLength="78.23" lengthAdjust="spacingAndGlyphs">20</text>
<text x="790.18" y="1218.7" font-size="69.5" textLength="78.23" lengthAdjust="spacingAndGlyphs">30</text>
<text x="987.78" y="1218.7" font-size="69.5" textLength="78.23" lengthAdjust="spacingAndGlyphs">40</text>
<text x="1186.08" y="1218.7" font-size="69.5" textLength="78.23" lengthAdjust="spacingAndGlyphs">50</text>
<text x="1383.68" y="1218.7" font-size="69.5" textLength="78.23" lengthAdjust="spacingAndGlyphs">60</text>
<text x="1582.18" y="1218.7" font-size="69.5" textLength="78.23" lengthAdjust="spacingAndGlyphs">70</text>
<text x="1778.88" y="1218.7" font-size="69.5" textLength="78.23" lengthAdjust="spacingAndGlyphs">80</text>
<text y="1279.0" font-size="69.4" font-weight="bold" xml:space="preserve"><tspan x="758.49" textLength="216.66" lengthAdjust="spacingAndGlyphs">Tensile</tspan> <tspan x="996.40" textLength="178.26" lengthAdjust="spacingAndGlyphs">strain</tspan> <tspan x="1198.32" textLength="102.57" lengthAdjust="spacingAndGlyphs">(%)</tspan></text>
<text transform="translate(80.2,904.2) rotate(-90)" y="0" font-size="69.4" font-weight="bold" xml:space="preserve"><tspan x="-0.71" textLength="217.16" lengthAdjust="spacingAndGlyphs">Tensile</tspan> <tspan x="237.97" textLength="186.83" lengthAdjust="spacingAndGlyphs">stress</tspan> <tspan x="441.34" textLength="183.72" lengthAdjust="spacingAndGlyphs">(MPa)</tspan></text>
<text x="1545.7" y="762.8" font-size="75.4" word-spacing="-9.8">1 d</text>
<text x="1545.7" y="872.8" font-size="75.4" word-spacing="-9.8">3 d</text>
<text x="1545.7" y="982.8" font-size="75.4" word-spacing="-9.8">4 d</text></g>
</svg>
</body>
</html>
